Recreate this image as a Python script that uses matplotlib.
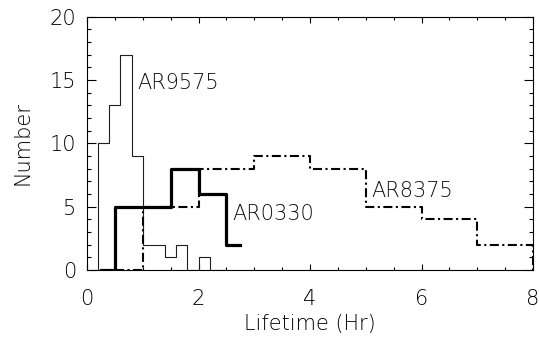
import matplotlib
matplotlib.use("Agg")
import matplotlib.pyplot as plt
from matplotlib.ticker import MultipleLocator
from matplotlib import font_manager

names = {f.name + "|" + str(f.weight) for f in font_manager.fontManager.ttflist}
light_ok = any(n.startswith("DejaVu Sans|") and n.split("|")[1] in ("200", "300", "light", "extra light") for n in names)
wt = 'light' if light_ok else 'normal'

plt.rcParams['font.family'] = ['DejaVu Sans']
plt.rcParams['font.weight'] = wt
plt.rcParams['axes.labelweight'] = wt
plt.rcParams['lines.scale_dashes'] = False

# AR9575 histogram (bin centres, counts), bin width 0.2 hr
ar9575_x = [0.1, 0.3, 0.5, 0.7, 0.9, 1.1, 1.3, 1.5, 1.7, 1.9, 2.1, 2.3, 2.5]
ar9575_y = [0, 10, 13, 17, 9, 2, 2, 1, 2, 0, 1, 0, 0]

# AR0330 histogram, bin width 0.5 hr
ar0330_x = [0.25, 0.75, 1.25, 1.75, 2.25, 2.75]
ar0330_y = [0, 5, 5, 8, 6, 2]

# AR8375 histogram, bin width 1 hr
ar8375_x = [0.5, 1.5, 2.5, 3.5, 4.5, 5.5, 6.5, 7.5, 8.5]
ar8375_y = [0, 5, 8, 9, 8, 5, 4, 2, 0]

labels = ["AR9575", "AR0330", "AR8375"]
x_ticks = [0, 2, 4, 6, 8]
y_ticks = [0, 5, 10, 15, 20]

fig = plt.figure(figsize=(5.39, 3.37), dpi=100)
ax = fig.add_axes([87/539, 67/337, 446/539, 253.3/337])

ax.step(ar9575_x, ar9575_y, where='mid', color='#202020', lw=0.8)
ax.step(ar0330_x, ar0330_y, where='mid', color='black', lw=2.3)
ax.step(ar8375_x, ar8375_y, where='mid', color='black', lw=1.5,
        linestyle=(0, (6.5, 2.5, 1.5, 2.5)))

fs = 15
tc = '#111111'
ax.text(0.9, 14.3, labels[0], fontsize=fs, ha='left', va='baseline', color=tc)
ax.text(2.6, 3.95, labels[1], fontsize=fs, ha='left', va='baseline', color=tc)
ax.text(5.1, 5.8, labels[2], fontsize=fs, ha='left', va='baseline', color=tc)

ax.set_xlim(0, 8)
ax.set_ylim(0, 20)
ax.set_xticks(x_ticks)
ax.set_yticks(y_ticks)
ax.xaxis.set_minor_locator(MultipleLocator(0.5))
ax.yaxis.set_minor_locator(MultipleLocator(1))
ax.tick_params(which='both', direction='in', top=True, right=True, width=0.8)
ax.tick_params(axis='x', which='major', length=4, pad=14, labelsize=fs)
ax.tick_params(axis='x', which='minor', length=2.5)
ax.tick_params(axis='y', which='major', length=6.5, pad=8, labelsize=fs)
ax.tick_params(axis='y', which='minor', length=3.2)
ax.set_yticklabels([str(v) for v in y_ticks])
ax.set_xticklabels([str(v) for v in x_ticks])
for s in ax.spines.values():
    s.set_linewidth(0.8)

ax.set_xlabel("Lifetime (Hr)", fontsize=fs, labelpad=3)
ax.set_ylabel("Number", fontsize=fs, labelpad=12)

fig.savefig("out.png", dpi=100)
